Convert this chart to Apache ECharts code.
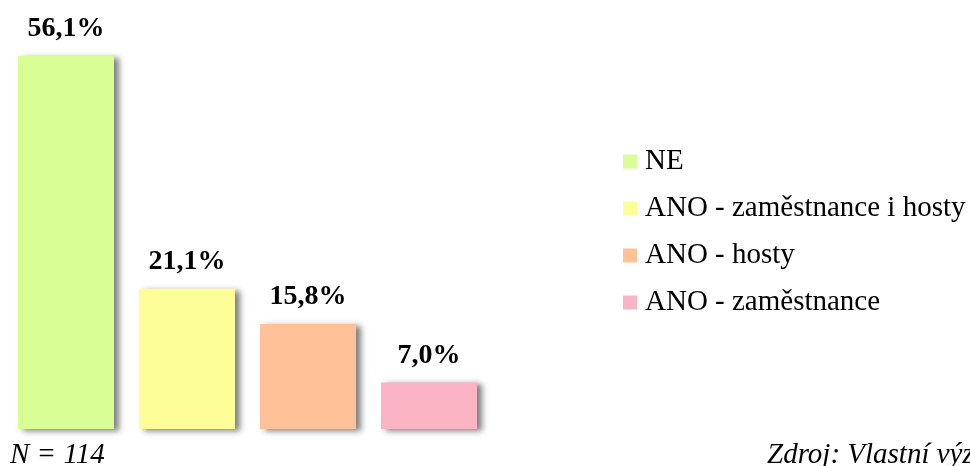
<!DOCTYPE html>
<html lang="cs">
<head>
	<meta charset="UTF-8">
	<title>Chart</title>
	<script src="https://cdn.jsdelivr.net/npm/echarts@6/dist/echarts.min.js"></script>
	<style>
		html, body { margin: 0; padding: 0; background: #fff; }
		#chart { width: 970px; height: 466px; }
	</style>
</head>
<body>
	<div id="chart"></div>

	<script type="text/javascript">
	var categories = ['NE', 'ANO - zaměstnance i hosty', 'ANO - hosty', 'ANO - zaměstnance'];
	var values = [56.1, 21.1, 15.8, 7.0];
	var colors = ['#D9FE96', '#FEFE98', '#FEC198', '#FBB4C4'];
	var sampleNote = 'N = 114';
	var sourceNote = 'Zdroj: Vlastní výzkum';

	var chart = echarts.init(document.getElementById('chart'));
	var font = '"Liberation Serif", "Times New Roman", serif';

	// one series per category, stacked, so each bar gets its own legend entry
	var series = [];
	for (var i = 0; i < categories.length; i++) {
		var data = [];
		for (var j = 0; j < categories.length; j++) {
			data.push(j === i ? values[i] : '-');
		}
		series.push({
			name: categories[i],
			type: 'bar',
			stack: 'all',
			barWidth: 96,
			data: data,
			itemStyle: {
				color: colors[i],
				shadowColor: 'rgba(0,0,0,0.5)',
				shadowBlur: 6,
				shadowOffsetX: 5,
				shadowOffsetY: 2
			},
			label: {
				show: true,
				position: 'top',
				distance: 13,
				fontFamily: font,
				fontWeight: 'bold',
				fontSize: 28,
				color: '#000',
				formatter: function (p) {
					return p.value.toFixed(1).replace('.', ',') + '%';
				}
			}
		});
	}

	var option = {
		animation: false,
		grid: { left: 5.5, top: 30, width: 484, bottom: 37 },
		xAxis: {
			type: 'category',
			data: categories,
			show: false
		},
		yAxis: {
			type: 'value',
			min: 0,
			max: 60,
			show: false
		},
		legend: {
			orient: 'vertical',
			left: 618,
			top: 142,
			icon: 'rect',
			itemWidth: 14,
			itemHeight: 14,
			itemGap: 18,
			data: categories,
			textStyle: { fontFamily: font, fontSize: 29, color: '#000', padding: [0, 0, 0, 3] }
		},
		graphic: [
			{
				type: 'text',
				left: 10,
				top: 441,
				style: { text: sampleNote, font: 'italic 29px ' + font, fill: '#000' }
			},
			{
				type: 'text',
				left: 767,
				top: 441,
				style: { text: sourceNote, font: 'italic 29px ' + font, fill: '#000' }
			}
		],
		series: series
	};
	chart.setOption(option);
	</script>
</body>
</html>
